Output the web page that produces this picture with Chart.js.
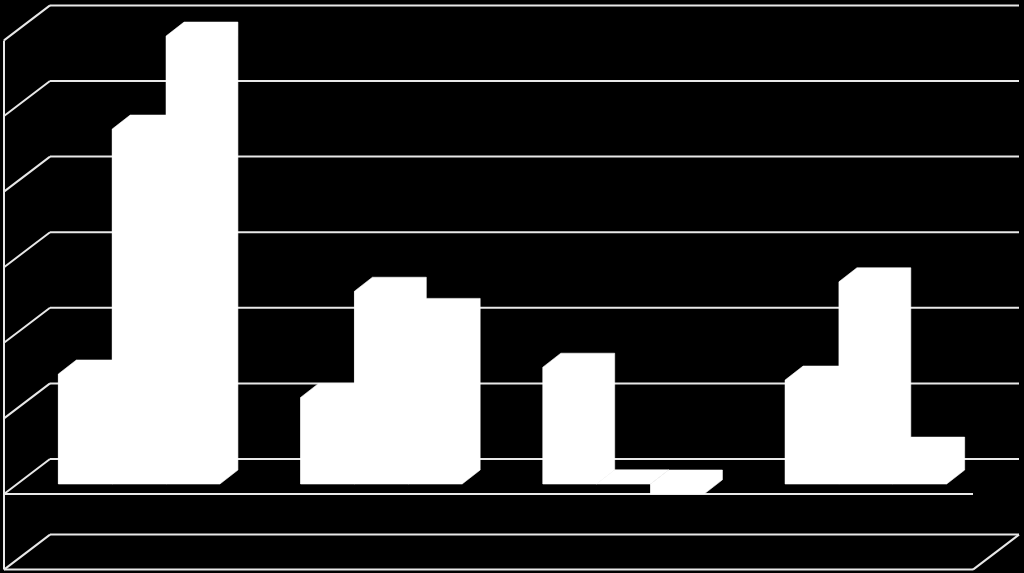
<!DOCTYPE html>
<html>
<head>
<meta charset="utf-8">
<title>Chart</title>
<script src="https://cdn.jsdelivr.net/npm/chart.js@4"></script>
<style>
    html, body { margin: 0; padding: 0; background: #000; }
    canvas { display: block; }
</style>
</head>
<body>
<canvas id="chart" width="1024" height="573"></canvas>
<script>
// Values (bars have no labels in the reference)
const categories = ['Group 1', 'Group 2', 'Group 3', 'Group 4'];
const series1 = [1.455, 1.145, 1.545, 1.375];
const series2 = [4.695, 2.55, 0.002, 2.675];
const series3 = [5.925, 2.27, -0.13, 0.435];
const valueTicks = [-1, 0, 1, 2, 3, 4, 5, 6];

const gridColor = '#e8e8e8';
const barColor = '#ffffff';

// the fake 3D look: how far the walls and the bar sides are pushed back
const barDepth = { x: 18, y: -14 };
const wallFront = { x: -14, y: 10 };
const wallBack = { x: 32, y: -25 };

function line(ctx, x1, y1, x2, y2) {
    ctx.beginPath();
    ctx.moveTo(x1, y1);
    ctx.lineTo(x2, y2);
    ctx.stroke();
}

const fake3d = {
    id: 'fake3d',
    beforeDatasetsDraw(chart) {
        const ctx = chart.ctx;
        const y = chart.scales.y;
        const area = chart.chartArea;
        const frontLeft = area.left + wallFront.x;
        const frontRight = area.right + wallFront.x;
        const backLeft = area.left + wallBack.x;
        const backRight = area.right + wallBack.x;

        ctx.save();
        ctx.strokeStyle = gridColor;
        ctx.lineWidth = 2;

        // grid lines on the back wall and the left wall
        valueTicks.forEach(v => {
            const py = y.getPixelForValue(v);
            line(ctx, frontLeft, py + wallFront.y, backLeft, py + wallBack.y);
            line(ctx, backLeft, py + wallBack.y, backRight, py + wallBack.y);
        });

        // left edge of the wall
        line(ctx, frontLeft, y.getPixelForValue(6) + wallFront.y, frontLeft, y.getPixelForValue(-1) + wallFront.y);

        // zero line in front and the floor at the bottom
        const zero = y.getPixelForValue(0) + wallFront.y;
        const bottom = y.getPixelForValue(-1) + wallFront.y;
        line(ctx, frontLeft, zero, frontRight, zero);
        line(ctx, frontLeft, bottom, frontRight, bottom);
        line(ctx, frontRight, bottom, backRight, y.getPixelForValue(-1) + wallBack.y);

        // top and side faces of the bars, stroked a little so no seam shows between them
        ctx.fillStyle = barColor;
        ctx.strokeStyle = barColor;
        ctx.lineWidth = 0.6;
        chart.data.datasets.forEach((ds, i) => {
            chart.getDatasetMeta(i).data.forEach(bar => {
                const x0 = bar.x - bar.width / 2;
                const x1 = bar.x + bar.width / 2;
                const top = Math.min(bar.y, bar.base);
                const bot = Math.max(bar.y, bar.base);
                ctx.beginPath();
                ctx.moveTo(x0, top);
                ctx.lineTo(x0 + barDepth.x, top + barDepth.y);
                ctx.lineTo(x1 + barDepth.x, top + barDepth.y);
                ctx.lineTo(x1 + barDepth.x, bot + barDepth.y);
                ctx.lineTo(x1, bot);
                ctx.lineTo(x0, bot);
                ctx.closePath();
                ctx.fill();
                ctx.stroke();
            });
        });
        ctx.restore();
    }
};

new Chart(document.getElementById('chart').getContext('2d'), {
    type: 'bar',
    data: {
        labels: categories,
        datasets: [
            { label: 'Series 1', data: series1, backgroundColor: barColor },
            { label: 'Series 2', data: series2, backgroundColor: barColor },
            { label: 'Series 3', data: series3, backgroundColor: barColor }
        ]
    },
    options: {
        responsive: false,
        animation: false,
        layout: {
            padding: { left: 18, right: 37, top: 30.4, bottom: 13.4 }
        },
        categoryPercentage: 0.667,
        barPercentage: 1,
        plugins: {
            legend: { display: false },
            tooltip: { enabled: false }
        },
        scales: {
            x: { display: false },
            y: { display: false, min: -1, max: 6, ticks: { stepSize: 1 } }
        }
    },
    plugins: [fake3d]
});
</script>
</body>
</html>
